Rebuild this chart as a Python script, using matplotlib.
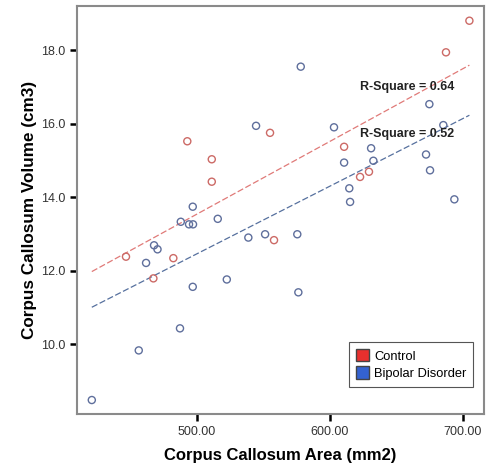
import matplotlib
matplotlib.use("Agg")
import matplotlib.pyplot as plt
import numpy as np
from matplotlib.patches import Patch

plt.rcParams['font.family'] = ['Liberation Sans', 'DejaVu Sans']

# Control group (red)
control_area = [446.8, 482.4, 467.4, 558.1, 492.9, 511.3, 511.3, 555.1,
                610.8, 622.8, 629.5, 687.4, 705.0]
control_volume = [12.38, 12.34, 11.79, 12.83, 15.52, 15.03, 14.42, 15.75,
                  15.37, 14.55, 14.69, 17.94, 18.80]

# Bipolar disorder group (blue)
bipolar_area = [497.0, 488.0, 494.2, 497.2, 515.8, 467.9, 470.5, 461.9,
                497.0, 522.6, 538.8, 551.4, 575.6, 576.4, 487.4, 456.4,
                421.1, 544.6, 578.2, 603.2, 631.1, 610.8, 632.8, 614.7,
                615.3, 672.4, 675.4, 685.4, 674.9, 693.7]
bipolar_volume = [13.74, 13.33, 13.26, 13.26, 13.41, 12.69, 12.58, 12.21,
                  11.56, 11.76, 12.90, 12.99, 12.99, 11.41, 10.43, 9.83,
                  8.48, 15.94, 17.55, 15.90, 15.33, 14.94, 14.99, 14.24,
                  13.87, 15.16, 14.73, 15.96, 16.53, 13.94]

r_square_labels = ['R-Square = 0.64', 'R-Square = 0.52']
group_names = ['Control', 'Bipolar Disorder']
x_ticks = [500, 600, 700]
y_ticks = [10, 12, 14, 16, 18]

fig = plt.figure(figsize=(4.94, 4.66), dpi=100)
ax = fig.add_axes([0.1565, 0.1116, 0.8233, 0.8755])

all_x = np.array(control_area + bipolar_area)
x_line = np.array([all_x.min(), all_x.max()])

groups = [
    (control_area, control_volume, '#cc6a66', '#e07a78'),
    (bipolar_area, bipolar_volume, '#5f6f9c', '#56709e'),
]
for xs, ys, mcolor, lcolor in groups:
    ax.scatter(xs, ys, s=26, facecolors='none', edgecolors=mcolor,
               linewidths=1.0, zorder=3)
    slope, intercept = np.polyfit(xs, ys, 1)
    ax.plot(x_line, slope * x_line + intercept, color=lcolor,
            linewidth=0.9, linestyle=(0, (5, 2)), zorder=2)

# R-square annotations
ax.text(622.8, 16.99, r_square_labels[0], fontsize=9, fontweight='bold',
        va='center', ha='left', color='#222222')
ax.text(622.8, 15.71, r_square_labels[1], fontsize=9, fontweight='bold',
        va='center', ha='left', color='#222222')

ax.set_xlim(410.2, 716.0)
ax.set_ylim(8.1, 19.2)
ax.set_xticks(x_ticks)
ax.set_xticklabels([f'{v:.2f}' for v in x_ticks])
ax.set_yticks(y_ticks)
ax.set_yticklabels([f'{v:.1f}' for v in y_ticks])
ax.tick_params(axis='both', direction='out', length=5, width=1.8,
               labelsize=9, color='black', labelcolor='#333333')
ax.tick_params(axis='x', pad=4)

for spine in ax.spines.values():
    spine.set_color('#8a8a8a')
    spine.set_linewidth(1.5)

ax.set_xlabel('Corpus Callosum Area (mm2)', fontsize=12, fontweight='bold',
              labelpad=7)
ax.set_ylabel('Corpus Callosum Volume (cm3)', fontsize=12.3, fontweight='bold',
              labelpad=3)

legend_elements = [
    Patch(facecolor='#e8302e', edgecolor='#444444', label=group_names[0]),
    Patch(facecolor='#3462d0', edgecolor='#444444', label=group_names[1]),
]
leg = ax.legend(handles=legend_elements, loc='lower right', fontsize=9.3,
                fancybox=False, edgecolor='#555555', framealpha=1,
                handlelength=1.0, handleheight=1.1, handletextpad=0.4,
                borderpad=0.55, labelspacing=0.3,
                bbox_to_anchor=(0.99, 0.05))
leg.get_frame().set_linewidth(0.8)

plt.savefig('out.png', dpi=100)
plt.close()
